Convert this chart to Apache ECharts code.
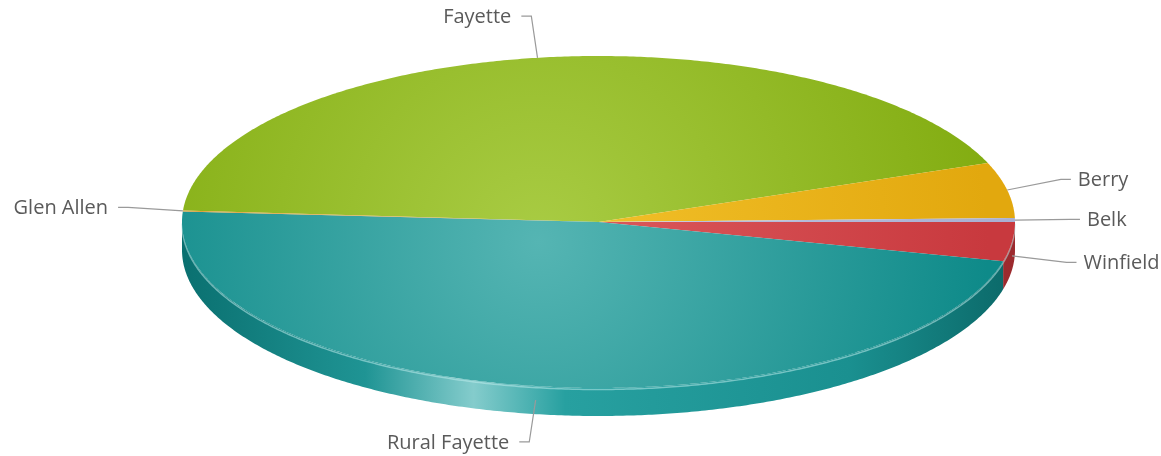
<!DOCTYPE html>
<html><head><meta charset="utf-8">
<script src="https://cdn.jsdelivr.net/npm/echarts@6/dist/echarts.min.js"></script>
<style>html,body{margin:0;padding:0;background:#fff}#c{width:1161px;height:456px}</style>
</head><body><div id="c"></div>
<script>
// ---- data ----
const categories = ['Fayette', 'Berry', 'Belk', 'Winfield', 'Rural Fayette', 'Glen Allen'];
const values = [431, 54, 4, 38, 472, 1];

// ---- styles ----
const topLight = ['#a9cc44', '#f3c22c', '#c4c9e4', '#de5c5f', '#55b5b3', '#eab04a'];
const topDark  = ['#83ad12', '#e2a80e', '#a9b0d2', '#c8393e', '#0e8a89', '#d89a30'];
const sideStops = [
  [[0, '#7a8e10'], [1, '#6a8010']],
  [[0, '#b8860a'], [1, '#a8780a']],
  [[0, '#8894ae'], [1, '#7884a0']],
  [[0, '#b03438'], [1, '#9c2a2e']],
  [[0, '#0a7070'], [0.22, '#1f9494'], [0.35, '#84cccc'], [0.46, '#27a0a0'], [0.8, '#1a9090'], [1, '#0b6868']],
  [[0, '#b06a10'], [1, '#a05e10']]
];
const START_ANGLE = 176;   // degrees, slices go clockwise
const DEPTH = 28;          // pixel thickness of the pie

const total = values.reduce((a, b) => a + b, 0);
const sliceData = [];
let acc = START_ANGLE;
values.forEach((v, i) => {
  const s = acc;
  acc -= v / total * 360;
  sliceData.push({ name: categories[i], value: [v, s, acc] });
});

const chart = echarts.init(document.getElementById('c'));

function geom(api) {
  const c = api.coord([0, 0]);
  const rx = api.coord([1, 0])[0] - c[0];
  const ry = c[1] - api.coord([0, 1])[1];
  return { cx: c[0], cy: c[1], rx, ry,
    pt(deg, dy) { const r = deg * Math.PI / 180; return [c[0] + rx * Math.cos(r), c[1] - ry * Math.sin(r) + (dy || 0)]; } };
}

function arc(g, from, to, dy) {
  const pts = [];
  const n = Math.max(2, Math.ceil(Math.abs(from - to) / 0.5));
  for (let k = 0; k <= n; k++) pts.push(g.pt(from + (to - from) * k / n, dy));
  return pts;
}

function renderSlice(params, api) {
  const i = params.dataIndex;
  const s = api.value(1), e = api.value(2);
  const g = geom(api);
  const children = [];
  // front side wall
  for (let k = -1; k <= 1; k++) {
    const lo = Math.max(e, -180 + 360 * k), hi = Math.min(s, 360 * k);
    if (hi > lo) {
      const topArc = arc(g, hi, lo, 0);
      const botArc = arc(g, lo, hi, DEPTH);
      children.push({
        type: 'polygon',
        shape: { points: topArc.concat(botArc) },
        style: { fill: { type: 'linear', x: g.cx - g.rx, y: 0, x2: g.cx + g.rx, y2: 0, global: true,
          colorStops: sideStops[i].map(st => ({ offset: st[0], color: st[1] })) } }
      });
      children.push({
        type: 'polyline',
        shape: { points: arc(g, hi, lo, 1.5) },
        style: { stroke: 'rgba(190,235,235,0.55)', lineWidth: 1.5, fill: null }
      });
    }
  }
  // top face
  children.push({
    type: 'polygon',
    shape: { points: [[g.cx, g.cy]].concat(arc(g, s, e, 0)) },
    style: { fill: { type: 'radial', x: g.cx - 60, y: g.cy + 20, r: g.rx * 1.08, global: true,
      colorStops: [{ offset: 0, color: topLight[i] }, { offset: 1, color: topDark[i] }] } }
  });
  return { type: 'group', children };
}

function renderLabel(params, api) {
  const s = api.value(1), e = api.value(2);
  const g = geom(api);
  const mid = (s + e) / 2;
  const r = mid * Math.PI / 180;
  const cs = Math.cos(r), sn = Math.sin(r);
  const anchor = g.pt(mid, sn < 0 ? DEPTH / 2 : 0);
  const L = 40 + 15 * Math.abs(cs);
  const elbow = [anchor[0] + L * cs, anchor[1] - L * sn];
  const side = cs >= 0 ? 1 : -1;
  const end = [elbow[0] + side * 10, elbow[1]];
  return { type: 'group', children: [
    { type: 'polyline', shape: { points: [anchor, elbow, end] },
      style: { stroke: '#9a9a9a', lineWidth: 1.2, fill: null } },
    { type: 'text', x: end[0] + side * (side > 0 ? 7 : 10), y: end[1] + 1,
      style: { text: categories[params.dataIndex], fill: '#5a5a5a', font: '20px "Open Sans"',
        align: side > 0 ? 'left' : 'right', verticalAlign: 'middle' } }
  ]};
}

chart.setOption({
  backgroundColor: '#fff',
  animation: false,
  grid: { left: 182, top: 56, width: 833, height: 332 },
  xAxis: { type: 'value', min: -1, max: 1, show: false },
  yAxis: { type: 'value', min: -1, max: 1, show: false },
  series: [
    { type: 'custom', renderItem: renderSlice, data: sliceData, silent: true },
    { type: 'custom', renderItem: renderLabel, data: sliceData, silent: true, z: 5 }
  ]
});
</script></body></html>
